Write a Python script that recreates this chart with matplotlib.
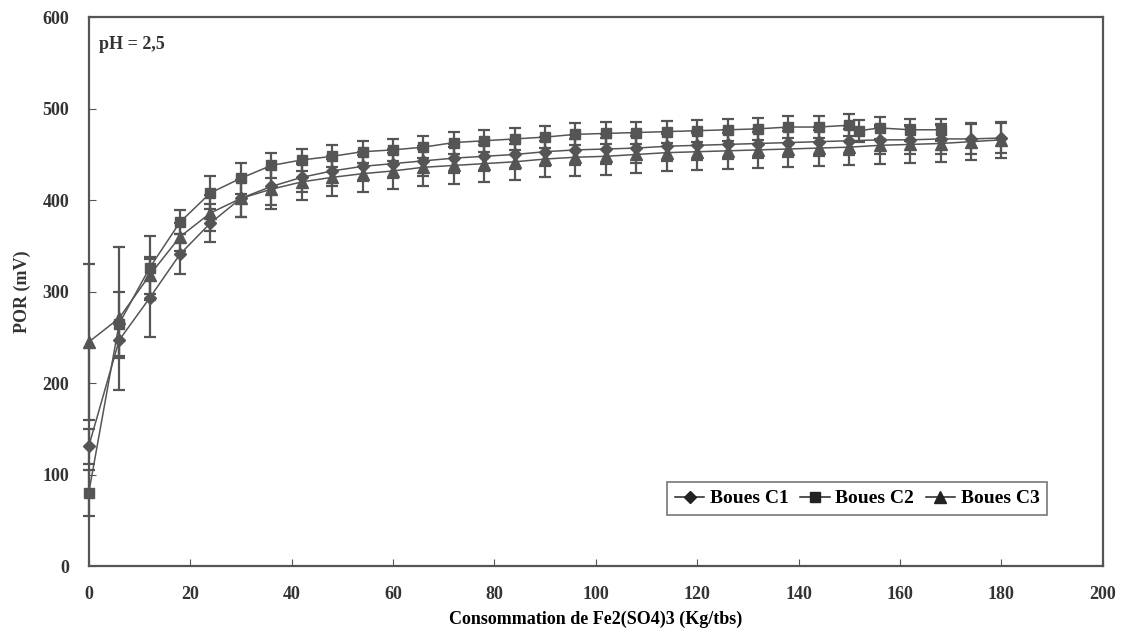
import matplotlib
matplotlib.use('Agg')
import matplotlib.pyplot as plt
from matplotlib.lines import Line2D

# Fe2(SO4)3 consumption (Kg/tbs)
x_c1 = [0, 6, 12, 18, 24, 30, 36, 42, 48, 54, 60, 66, 72, 78, 84, 90, 96, 102,
        108, 114, 120, 126, 132, 138, 144, 150, 156, 162, 168, 174, 180]
x_c2 = [0, 6, 12, 18, 24, 30, 36, 42, 48, 54, 60, 66, 72, 78, 84, 90, 96, 102,
        108, 114, 120, 126, 132, 138, 144, 150, 152, 156, 162, 168]
x_c3 = x_c1

# POR (mV)
por_c1 = [131, 247, 293, 341, 375, 402, 415, 425, 432, 437, 440, 443, 446, 448,
          450, 453, 455, 456, 457, 459, 460, 461, 462, 463, 464, 465, 466, 466,
          467, 467, 468]
por_c2 = [80, 265, 326, 376, 408, 424, 438, 444, 448, 453, 455, 458, 463, 465,
          467, 469, 472, 473, 474, 475, 476, 477, 478, 480, 480, 482, 476, 479,
          477, 477]
por_c3 = [245, 271, 318, 360, 386, 402, 412, 420, 425, 429, 432, 436, 438, 440,
          442, 445, 447, 448, 450, 452, 453, 454, 455, 456, 457, 458, 460, 461,
          462, 464, 466]

# error bars
err_c1 = [19, 20, 43, 22, 21, 20, 20] + [16] * 24
err_c2 = [25, 35, 35, 13, 18, 17, 14] + [12] * 23
err_c3 = [85, 78, 20, 15, 20, 20, 22] + [20] * 24

labels = ['Boues C1', 'Boues C2', 'Boues C3']

serif = 'Liberation Serif'
grey = '#555555'

fig, ax = plt.subplots(figsize=(11.23, 6.39), dpi=100)
fig.subplots_adjust(left=0.079, right=0.982, bottom=0.114, top=0.973)

series = [(x_c1, por_c1, err_c1, 'D', 6),
          (x_c2, por_c2, err_c2, 's', 7.5),
          (x_c3, por_c3, err_c3, '^', 8)]
handles = []
for (xs, ys, es, mk, ms), lab in zip(series, labels):
    cont = ax.errorbar(xs, ys, yerr=es, color=grey, ecolor=grey, lw=1.1,
                       elinewidth=1.6, capsize=4, capthick=1.6, marker=mk,
                       markersize=ms, markerfacecolor=grey, markeredgecolor=grey)
    for art in cont.lines[:1] + tuple(cont.lines[1]) + tuple(cont.lines[2]):
        art.set_clip_on(False)
    handles.append(Line2D([], [], color='#222222', lw=1.1, marker=mk,
                          markersize=ms, markerfacecolor='#222222',
                          markeredgecolor='#222222', label=lab))

ax.set_xlim(0, 200)
ax.set_ylim(0, 600)
ax.set_xticks(range(0, 201, 20))
ax.set_yticks(range(0, 601, 100))
ax.tick_params(direction='in', length=5, color=grey, pad=14)
for lab in ax.get_xticklabels() + ax.get_yticklabels():
    lab.set_fontfamily(serif)
    lab.set_fontweight('bold')
    lab.set_fontsize(13)
    lab.set_color('#333333')
for sp in ax.spines.values():
    sp.set_color(grey)
    sp.set_linewidth(1.6)

ax.set_xlabel('Consommation de Fe2(SO4)3 (Kg/tbs)', fontfamily=serif,
              fontweight='bold', fontsize=13, labelpad=6)
ax.set_ylabel('POR (mV)', fontfamily=serif, fontweight='bold', fontsize=13,
              labelpad=8, color='#333333')
ax.text(2, 570, 'pH = 2,5', fontfamily=serif, fontweight='bold', fontsize=13,
        color='#333333', va='center')

leg = ax.legend(handles=handles, loc='lower right',
                bbox_to_anchor=(0.955, 0.075), ncol=3,
                prop={'family': serif, 'weight': 'bold', 'size': 14},
                frameon=True, fancybox=False, edgecolor=grey, handlelength=1.5,
                handletextpad=0.3, columnspacing=0.6, borderpad=0.4)
leg.get_frame().set_linewidth(1.2)

fig.savefig('out.png', dpi=100)
